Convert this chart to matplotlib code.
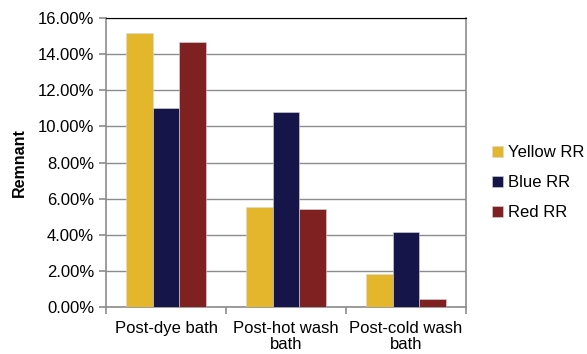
import matplotlib.pyplot as plt
import numpy as np
from matplotlib.ticker import FuncFormatter, MultipleLocator

plt.rcParams['font.family'] = ['Liberation Sans', 'DejaVu Sans']

categories = ["Post-dye bath", "Post-hot wash\nbath", "Post-cold wash\nbath"]
series = ["Yellow RR", "Blue RR", "Red RR"]
yellow = [15.2, 5.55, 1.82]
blue = [11.0, 10.78, 4.14]
red = [14.7, 5.42, 0.43]
colors = ["#E3B62B", "#15154A", "#7E2120"]

fig = plt.figure(figsize=(5.87, 3.54), dpi=100)
ax = fig.add_axes([0.1806, 0.1328, 0.6133, 0.8162])

x = np.arange(len(categories))
w = 2 / 9
for i, (vals, name) in enumerate(zip([yellow, blue, red], series)):
    ax.bar(x + (i - 1) * w, vals, w, color=colors[i], label=name,
           edgecolor="#d8d8e0", linewidth=0.4, zorder=3)

ax.set_xlim(-0.5, 2.5)
ax.set_ylim(0, 16)
ax.yaxis.set_major_locator(MultipleLocator(2))
ax.yaxis.set_major_formatter(FuncFormatter(lambda v, p: "%.2f%%" % v))
ax.grid(axis="y", color="#8c8c8c", linewidth=1.0, zorder=0)

ax.set_xticks(x)
ax.set_xticklabels(categories, linespacing=1.1)
ax.set_xticks([-0.5, 0.5, 1.5, 2.5], minor=True)
ax.tick_params(axis="x", which="major", length=0, pad=10, labelsize=12)
ax.tick_params(axis="x", which="minor", length=5, color="#8c8c8c", width=1.2)
ax.tick_params(axis="y", length=5, color="#8c8c8c", width=1.2, labelsize=12)

for s in ["left", "bottom", "right"]:
    ax.spines[s].set_color("#8c8c8c")
    ax.spines[s].set_linewidth(1.2)
ax.spines["top"].set_color("black")

ax.set_ylabel("Remnant", fontsize=11.5, fontweight="bold", labelpad=8)

ax.legend(loc="center left", bbox_to_anchor=(1.03, 0.43), frameon=False,
          fontsize=12, handlelength=0.7, handleheight=0.7, handletextpad=0.3,
          labelspacing=0.9)

fig.savefig("out.png", dpi=100)
